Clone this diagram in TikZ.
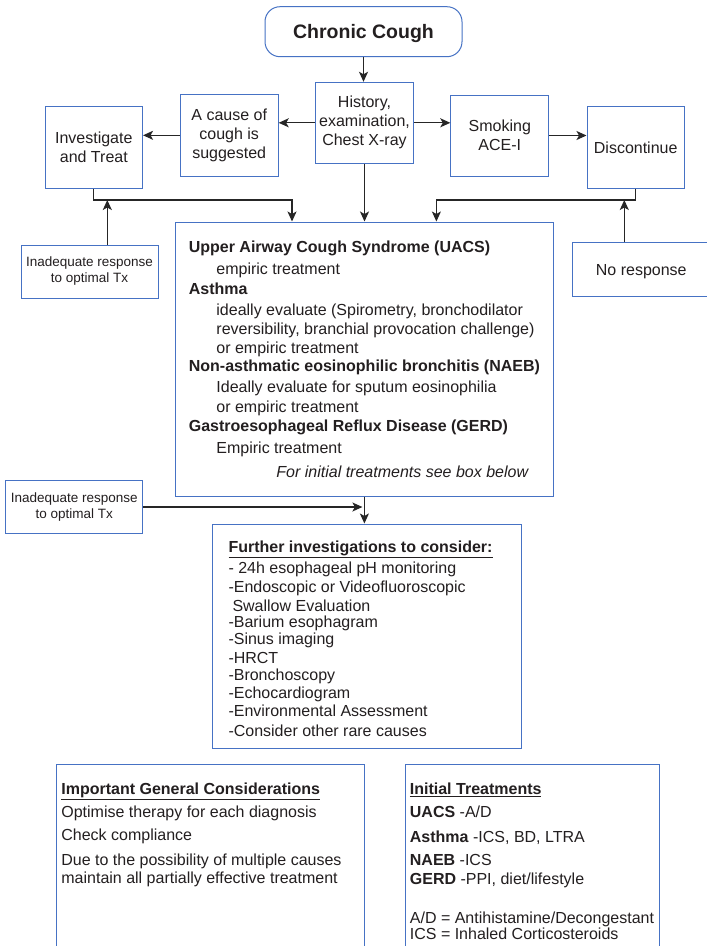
\documentclass[tikz,border=0pt]{standalone}
\usepackage{fontspec}
\setmainfont{Liberation Sans}
\usetikzlibrary{arrows.meta,calc}
\definecolor{boxblue}{RGB}{70,114,196}
\definecolor{ink}{RGB}{35,31,32}
\definecolor{linegray}{RGB}{38,38,38}
\begin{document}
\begin{tikzpicture}[x=1pt,y=-1pt,
  box/.style={draw=boxblue,line width=1pt,fill=white,text=ink,inner sep=0pt,align=center,
    font=\fontsize{16}{19}\selectfont},
  arr/.style={draw=linegray,line width=1.3pt,-{Stealth[length=10pt,width=9pt,inset=2.5pt]}}]
\useasboundingbox (0,0) rectangle (707,946);
\clip (0,0) rectangle (707,946);
\fill[white] (0,0) rectangle (707,946);

% top row
\node[box,rounded corners=15pt,minimum width=197pt,minimum height=50pt,text depth=0pt,
  font=\bfseries\fontsize{19.5}{23}\selectfont] (cc) at (363.5,31.7) {Chronic Cough};
\node[box,minimum width=98pt,minimum height=81pt] (hist) at (364.5,122.8) {History,\\examination,\\Chest X-ray};
\node[box,minimum width=98pt,minimum height=82pt] (cause) at (229.2,135.3) {A cause of\\cough is\\suggested};
\node[box,minimum width=97.5pt,minimum height=81.6pt] (inv) at (93.8,147.5) {Investigate\\and Treat};
\node[box,minimum width=98pt,minimum height=81pt] (smok) at (499.8,135.5) {Smoking\\ACE-I};
\node[box,minimum width=97.4pt,minimum height=81.6pt] (disc) at (635.7,147.5) {Discontinue};

% side boxes
\node[box,minimum width=137pt,minimum height=53pt,font=\fontsize{13.5}{16}\selectfont] (inad1) at (89.5,271.5)
  {Inadequate response\\to optimal Tx};
\node[box,minimum width=138pt,minimum height=54pt,text depth=0pt] (noresp) at (641.3,269.7) {No response};

% main box
\node[box,minimum width=378.7pt,minimum height=274pt,align=left] (main) at (364.4,359)
{\makebox[349.9pt][l]{\textbf{Upper Airway Cough Syndrome (UACS)}}\\[3.3pt]
\hspace*{27.6pt}empiric treatment\\[0.7pt]
\textbf{Asthma}\\[2pt]
\hspace*{27.6pt}ideally evaluate (Spirometry, bronchodilator\\
\hspace*{27.6pt}reversibility, branchial provocation challenge)\\
\hspace*{27.6pt}or empiric treatment\\[-1pt]
\textbf{Non-asthmatic eosinophilic bronchitis (NAEB)}\\[2pt]
\hspace*{27.6pt}Ideally evaluate for sputum eosinophilia\\[1pt]
\hspace*{27.6pt}or empiric treatment\\[0.3pt]
\textbf{Gastroesophageal Reflux Disease (GERD)}\\[3pt]
\hspace*{27.6pt}Empiric treatment\\[4.7pt]
\hspace*{87.6pt}\textit{For initial treatments see box below}};

\node[box,minimum width=137pt,minimum height=52.6pt,font=\fontsize{13.5}{16}\selectfont] (inad2) at (74.2,507)
  {Inadequate response\\to optimal Tx};

% further investigations
\node[box,minimum width=308.9pt,minimum height=224.3pt,align=left,font=\fontsize{16}{18.4}\selectfont] (further) at (367.25,636.15)
{\rule{0pt}{17pt}\makebox[277.5pt][l]{\textbf{\underline{Further investigations to consider:}}}\\[2.3pt]
- 24h esophageal pH monitoring\\[0.6pt]
-Endoscopic or Videofluoroscopic\\[0.6pt]
\hspace*{4pt}Swallow Evaluation\\[-2.4pt]
-Barium esophagram\\[-1.4pt]
-Sinus imaging\\[0.6pt]
-HRCT\\[-1.1pt]
-Bronchoscopy\\[-0.1pt]
-Echocardiogram\\[-0.4pt]
-Environmental Assessment\\[1.6pt]
-Consider other rare causes};

% bottom boxes
\node[box,anchor=north west,inner xsep=4.5pt,inner ysep=18.4pt] (gen) at (56.4,764)
{\parbox[t][200pt][t]{299pt}{\raggedright
\mbox{\textbf{\underline{Important General Considerations}}}\\[4pt]
\mbox{Optimise therapy for each diagnosis}\\[4pt]
\mbox{Check compliance}\\[5.7pt]
\mbox{Due to the possibility of multiple causes}\\[-1pt]
\mbox{maintain all partially effective treatment}}};

\node[box,anchor=north west,inner xsep=4.5pt,inner ysep=18.4pt] (init) at (404.9,764)
{\parbox[t][200pt][t]{245.3pt}{\raggedright
\mbox{\textbf{\underline{Initial Treatments}}}\\[4pt]
\mbox{\textbf{UACS} -A/D}\\[5.7pt]
\mbox{\textbf{Asthma} -ICS, BD, LTRA}\\[4.3pt]
\mbox{\textbf{NAEB} -ICS}\\[0.3pt]
\mbox{\textbf{GERD} -PPI, diet/lifestyle}\\[19.4pt]
\mbox{A/D = Antihistamine/Decongestant}\\[-2.4pt]
\mbox{ICS = Inhaled Corticosteroids}}};

% connectors
\coordinate (jl) at (292,200);
\coordinate (jr) at (436.4,200);
\coordinate (ua) at (107.3,200);
\coordinate (ub) at (624.3,200);

\draw[arr] (cc.south) -- (cc.south |- hist.north);
\draw[arr] (hist.west) -- (hist.west -| cause.east);
\draw[arr] (cause.west) -- (cause.west -| inv.east);
\draw[arr] (hist.east) -- (hist.east -| smok.west);
\draw[arr] (smok.east) -- (smok.east -| disc.west);
\draw[arr] (inv.south) |- (jl) -- (jl |- main.north);
\draw[arr] (disc.south) |- (jr) -- (jr |- main.north);
\draw[arr] (hist.south) -- (hist.south |- main.north);
\draw[arr] (ua |- inad1.north) -- (ua);
\draw[arr] (ub |- noresp.north) -- (ub);
\draw[arr] (inad2.east) -- ($(inad2.east -| main.south)+(-2,0)$);
\draw[arr] (main.south) -- (main.south |- further.north);
\end{tikzpicture}
\end{document}
